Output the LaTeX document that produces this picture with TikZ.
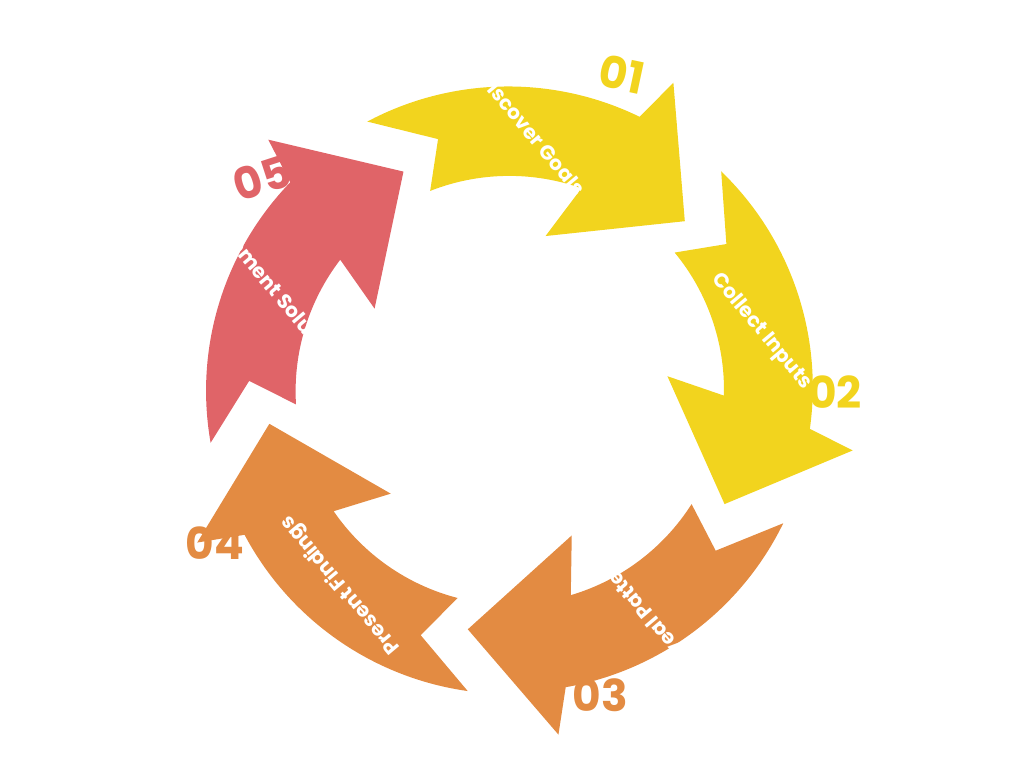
\documentclass[tikz,border=0pt]{standalone}
\usepackage{fontspec}
\setmainfont{Poppins}
\usetikzlibrary{positioning}

\definecolor{cycyellow}{HTML}{F2D41E}
\definecolor{cycorange}{HTML}{E38B42}
\definecolor{cycred}{HTML}{E06468}

\begin{document}
\begin{tikzpicture}[
    x=0.02cm, y=0.02cm,
    % Define styles
    steplabel/.style={text=white, font=\bfseries\fontsize{11.5}{13}\selectfont},
    stepnum/.style={font=\bfseries\fontsize{25}{28}\selectfont},
  ]
  \useasboundingbox (0,0) rectangle (1024,768);

  % Curved arrows (tip angle / colour / label / text turn)
  \foreach \tip/\col/\lab/\turn/\nm in {
      44/cycyellow/Discover Goals/-90/goals,
      -28/cycyellow/Collect Inputs/-90/inputs,
      -100/cycorange/Reveal Patterns/90/patterns,
      -172/cycorange/Present Findings/90/findings,
      116/cycred/Implement Solutions/-90/solutions} {
    \begin{scope}[shift={(510,378)}, rotate=\tip]
      \fill[\col] (74:304) arc[start angle=74, end angle=20, radius=300]
        -- (18:348) -- (0:243) -- (33:158) -- (26.5:214)
        arc[start angle=26.5, end angle=67.5, radius=216]
        -- (62:261) -- cycle;
      \node[steplabel, rotate=40+\turn] (\nm) at (41:258) {\lab};
    \end{scope}
  }

  % Step numbers
  \node[stepnum, text=cycyellow, rotate=-12] (n1) at (622,694) {01};
  \node[stepnum, text=cycyellow] (n2) at (835,376) {02};
  \node[stepnum, text=cycorange] (n3) at (600,73) {03};
  \node[stepnum, text=cycorange] (n4) at (215,225) {04};
  \node[stepnum, text=cycred, rotate=18] (n5) at (262,590) {05};

\end{tikzpicture}
\end{document}
